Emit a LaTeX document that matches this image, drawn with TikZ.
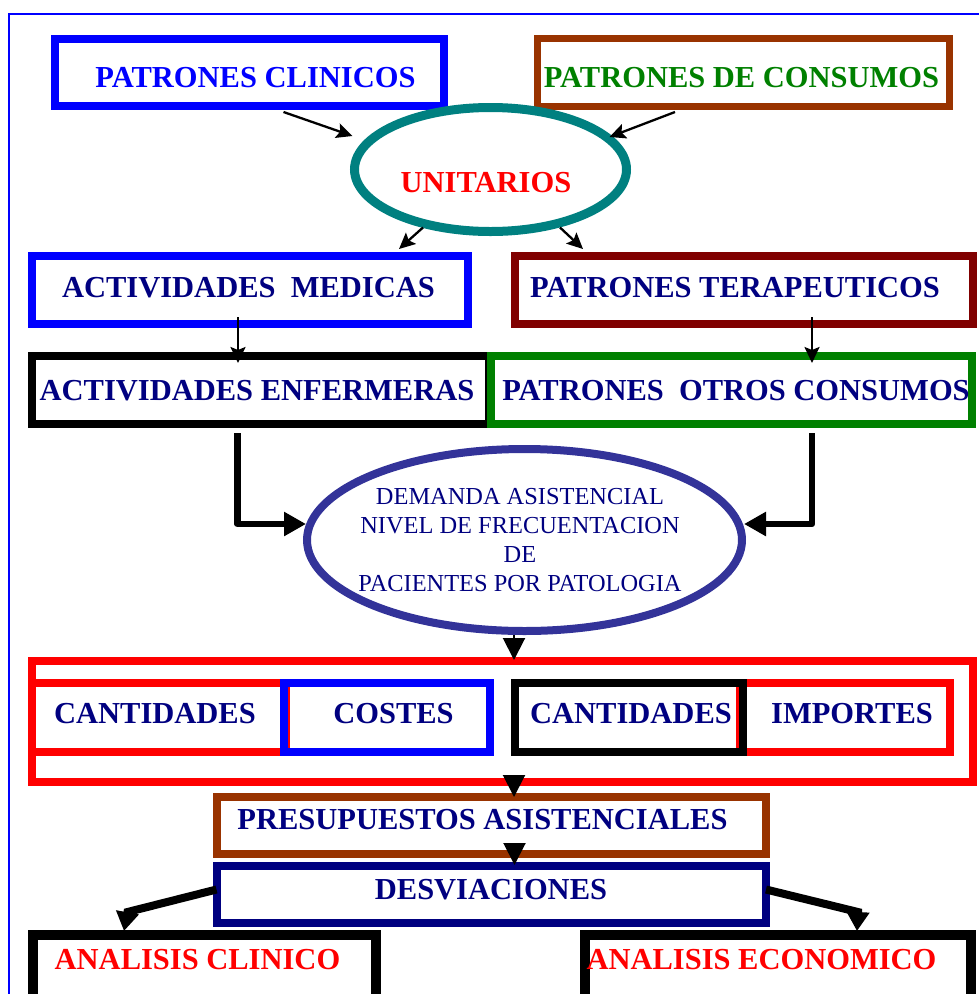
\documentclass[tikz,border=0pt]{standalone}
\usepackage{fontspec}
\setmainfont{Liberation Serif}
\usetikzlibrary{arrows.meta,calc,shapes.geometric}

\definecolor{navytxt}{HTML}{000080}
\definecolor{brownb}{HTML}{993300}
\definecolor{greenb}{HTML}{008000}
\definecolor{tealb}{HTML}{008080}
\definecolor{maroonb}{HTML}{800000}
\definecolor{indigob}{HTML}{333399}

\tikzset{
  frame box/.style={draw, rectangle, inner sep=0pt, outer sep=0pt, line width=8pt},
  oval/.style={draw, ellipse, inner sep=0pt, outer sep=0pt},
  headtxt/.style={inner sep=0pt, outer sep=0pt, font=\fontsize{30.5}{36}\selectfont\bfseries, text=navytxt},
  thinarrow/.style={line width=2.3pt, -{Stealth[length=16pt,width=15pt,inset=3pt]}},
  thickarrow/.style={line width=6.5pt, line join=round, -{Triangle[length=22pt,width=23pt]}},
  bentarrow/.style={line width=8pt, line join=miter, -{Triangle[length=19pt,width=22pt]}},
  tri/.style={line width=2pt, -{Triangle[length=22pt,width=22pt]}},
}

\begin{document}
\begin{tikzpicture}[x=1pt,y=-1pt]
\useasboundingbox (0,0) rectangle (979,994);
\clip (0,0) rectangle (979,994);

% page frame
\draw[blue, line width=1.5pt] (9,1000) -- (9,14) -- (985,14);

% top row
\node[frame box, draw=blue, minimum width=389pt, minimum height=67pt] (pc) at (249.5,72.5) {};
\node[headtxt, text=blue] (pctxt) at (255.5,77.5) {PATRONES CLINICOS};
\node[frame box, draw=brownb, line width=7pt, minimum width=412pt, minimum height=68pt] (pdc) at (743.5,72.5) {};
\node[headtxt, text=greenb] (pdctxt) at (741.5,77.5) {PATRONES DE CONSUMOS};

% unitarios
\node[oval, draw=tealb, line width=9pt, minimum width=272pt, minimum height=124pt] (unit) at (490.5,169.5) {};
\node[headtxt, text=red] (unittxt) at (486,182.5) {UNITARIOS};

% second row
\node[frame box, draw=blue, minimum width=436pt, minimum height=68pt] (am) at (250,290) {};
\node[headtxt] (amtxt) at (248.5,287.5) {ACTIVIDADES\ \ MEDICAS};
\node[frame box, draw=maroonb, minimum width=458pt, minimum height=68pt] (pt) at (744,290) {};
\node[headtxt] (pttxt) at (735,287.5) {PATRONES TERAPEUTICOS};

% third row
\node[frame box, draw=black, minimum width=457pt, minimum height=68pt] (ae) at (260.5,390) {};
\node[frame box, draw=greenb, minimum width=481pt, minimum height=68pt] (poc) at (731.5,390) {};
\node[headtxt] (aetxt) at (257,390.5) {ACTIVIDADES ENFERMERAS};
\node[headtxt] (poctxt) at (736,390.5) {PATRONES\ \ OTROS CONSUMOS};

% demanda
\node[oval, draw=indigob, line width=8pt, minimum width=435pt, minimum height=182pt] (dem) at (524.5,540) {};
\node[inner sep=0pt, outer sep=0pt, align=center, text=navytxt,
      font=\fontsize{24.4}{29.3}\selectfont] (demtxt) at (520,540)
  {DEMANDA ASISTENCIAL\\NIVEL DE FRECUENTACION\\DE\\PACIENTES POR PATOLOGIA};

% cantidades / costes / importes
\node[frame box, draw=red, minimum width=941pt, minimum height=121pt] (redbig) at (502.5,721.5) {};
\node[frame box, draw=red, minimum width=254pt, minimum height=69pt] (redl) at (159,717.5) {};
\node[frame box, draw=red, minimum width=210pt, minimum height=69pt] (redr) at (845,717.5) {};
\node[frame box, draw=blue, minimum width=205.5pt, minimum height=69pt] (cost) at (386.75,717.5) {};
\node[frame box, draw=black, minimum width=228pt, minimum height=69pt] (cant) at (629,717.5) {};
\node[headtxt] (cantltxt) at (155,714) {CANTIDADES};
\node[headtxt] (costtxt) at (393.5,714) {COSTES};
\node[headtxt] (cantrtxt) at (631,714) {CANTIDADES};
\node[headtxt] (imptxt) at (852,714) {IMPORTES};

% presupuestos / desviaciones
\node[frame box, draw=brownb, minimum width=549.5pt, minimum height=57pt] (pres) at (491.25,825.5) {};
\node[headtxt] (prestxt) at (482.5,820) {PRESUPUESTOS ASISTENCIALES};
\node[frame box, draw=navytxt, minimum width=549.5pt, minimum height=57pt] (desv) at (491.25,894.5) {};
\node[headtxt] (desvtxt) at (491,890) {DESVIACIONES};

% analysis boxes
\node[frame box, draw=black, line width=10pt, minimum width=343pt, minimum height=70pt] (acl) at (204.5,970) {};
\node[headtxt, text=red] (acltxt) at (197.5,960) {ANALISIS CLINICO};
\node[frame box, draw=black, line width=10pt, minimum width=386pt, minimum height=70pt] (aec) at (778,970) {};
\node[headtxt, text=red] (aectxt) at (761.5,960) {ANALISIS ECONOMICO};

% connectors
\draw[thinarrow] ($(pc.south)+(34,6)$) -- ($(unit.west)+(-2,-33.5)$);
\draw[thinarrow] ($(pdc.south)+(-68.5,5.5)$) -- ($(unit.east)+(-17,-32.5)$);
\draw[thinarrow] ($(unit.south)+(-67.5,-4)$) -- ($(am.north)+(149,-7)$);
\draw[thinarrow] ($(unit.south)+(69.5,-4)$) -- ($(pt.north)+(-161,-7)$);
\draw[thinarrow] ($(am.south)+(-12,-7)$) -- ($(ae.north)+(-22.5,7)$);
\draw[thinarrow] ($(pt.south)+(68,-7)$) -- ($(poc.north)+(80.5,7)$);

\draw[thickarrow] ($(ae.south)+(-23,9)$) |- ($(dem.west)+(-1,-16)$);
\draw[thickarrow] ($(poc.south)+(80.5,9)$) |- ($(dem.east)+(2,-16)$);

\draw[tri] ($(dem.south)+(-10.5,4)$) -- ($(redbig.north)+(11.5,-1)$);
\draw[tri] ($(redbig.south)+(11.5,-7)$) -- ($(pres.north)+(22.75,0)$);
\draw[tri] ($(pres.south)+(23.25,-9)$) -- ($(desv.north)+(23.25,-1)$);

\draw[bentarrow]
  ($(desv.west)+(0,-5)$) -- ($(acl.north)+(-77,-23)$) -- ($(acl.north)+(-80.5,-4)$);
\draw[bentarrow]
  ($(desv.east)+(0,-5)$) -- ($(aec.north)+(80,-23)$) -- ($(aec.north)+(79,-4)$);
\end{tikzpicture}
\end{document}
